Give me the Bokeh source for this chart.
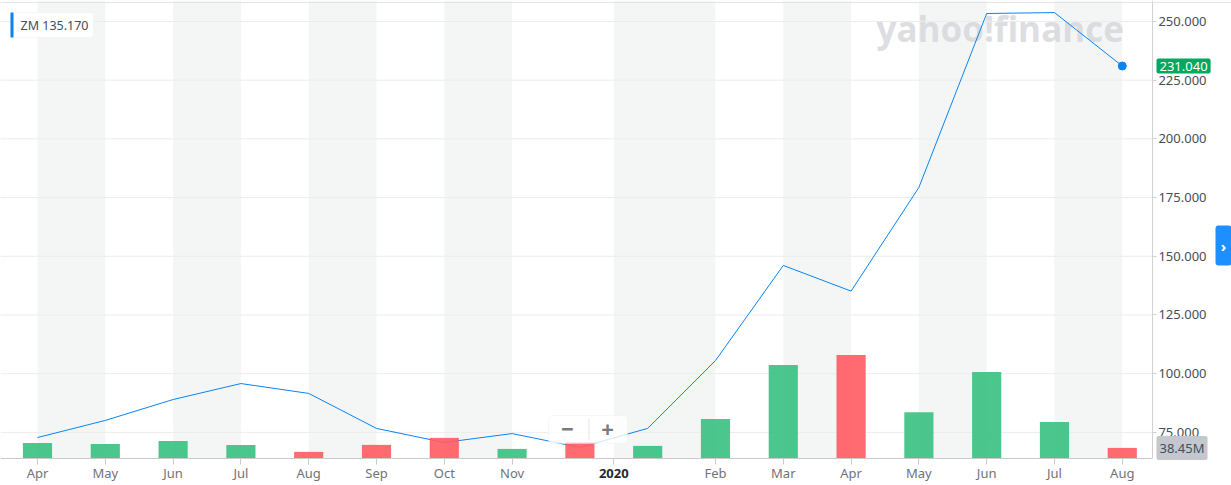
from bokeh.plotting import figure
from bokeh.models import (Range1d, FixedTicker, PrintfTickFormatter, LinearAxis,
                          BoxAnnotation, Label, Span, ColumnDataSource)
from bokeh.embed import file_html
from bokeh.resources import INLINE

# ---- data ----
months = ["Apr", "May", "Jun", "Jul", "Aug", "Sep", "Oct", "Nov", "Dec",
          "Jan", "Feb", "Mar", "Apr", "May", "Jun", "Jul", "Aug"]
close = [72.8, 80.1, 89.0, 95.8, 91.6, 76.7, 70.7, 74.5, 68.6,
         76.7, 105.6, 146.1, 135.17, 179.3, 253.4, 253.8, 231.04]
volume_m = [56.6, 53.0, 63.9, 49.4, 24.0, 49.4, 74.8, 34.8, 59.2,
            45.7, 143.7, 339.8, 376.1, 168.1, 314.4, 132.9, 38.45]
tick_pos = [0, 1, 2, 3, 4, 5, 6, 7, 8.5, 10, 11, 12, 13, 14, 15, 16]
tick_text = ["Apr", "May", "Jun", "Jul", "Aug", "Sep", "Oct", "Nov", "2020",
             "Feb", "Mar", "Apr", "May", "Jun", "Jul", "Aug"]
price_ticks = [75, 100, 125, 150, 175, 200, 225, 250]
symbol = "ZM"
legend_idx = 12

# ---- layout / style ----
W, H = 1231, 485
X_LO, X_HI = -0.5457, 17.611        # visible x extent (whole canvas)
Y_LO, Y_HI = 52.38, 258.94          # visible price extent (whole canvas)
V_LO, V_HI = -98.0e6, 1662.5e6      # visible volume extent (whole canvas)
AXIS_X = 16.445                     # where the price axis sits
AXIS_Y = 63.88                      # where the time axis sits
FONT = "Noto Sans"
GREEN = "#37c07f"
RED = "#ff5b60"
BLUE = "#0a84f2"

x = list(range(len(months)))
volume = [v * 1e6 for v in volume_m]
colors = [GREEN] + [GREEN if close[i] >= close[i - 1] else RED for i in range(1, len(close))]

p = figure(width=W, height=H, x_range=Range1d(X_LO, X_HI), y_range=Range1d(Y_LO, Y_HI),
           x_axis_location=None, y_axis_location=None,
           output_backend="svg", toolbar_location=None,
           min_border_left=0, min_border_top=0, min_border_right=0, min_border_bottom=0)
p.outline_line_color = None
p.background_fill_color = "white"
p.border_fill_color = "white"
p.extra_y_ranges = {"vol": Range1d(V_LO, V_HI)}
p.xgrid.visible = False
p.ygrid.visible = False

# alternating bands between tick pairs
for a, b in zip(tick_pos[0::2], tick_pos[1::2]):
    p.add_layout(BoxAnnotation(left=a, right=b, bottom=AXIS_Y, fill_color="#f4f6f5",
                               fill_alpha=1.0, line_color=None, level="underlay"))

# watermark
p.add_layout(Label(x=876, y=457, x_units="screen", y_units="screen", text="yahoo!finance",
                   text_font="Open Sans", text_font_style="bold", text_font_size="35px",
                   text_color="#d6d8dc", text_alpha=0.85, text_baseline="middle",
                   level="underlay"))

# top border line
p.add_layout(Span(location=H - 2, location_units="screen", dimension="width",
                  line_color="#e3e4e6", line_width=1))

# horizontal grid lines (stop at the price axis)
p.segment(x0=[X_LO] * len(price_ticks), x1=[AXIS_X] * len(price_ticks),
          y0=price_ticks, y1=price_ticks, line_color="#ececec", line_width=1)

# axes placed at fixed locations
yax = LinearAxis(fixed_location=AXIS_X, bounds=(AXIS_Y, Y_HI))
yax.ticker = FixedTicker(ticks=price_ticks)
yax.formatter = PrintfTickFormatter(format="%.3f")
yax.axis_line_color = "#cfd1d4"
yax.major_tick_line_color = "#cfd1d4"
yax.major_tick_out = 4
yax.major_tick_in = 0
yax.minor_tick_line_color = None
yax.major_label_standoff = 2
yax.major_label_text_font = FONT
yax.major_label_text_font_size = "13px"
yax.major_label_text_color = "#464e56"
p.add_layout(yax, "right")

xax = LinearAxis(fixed_location=AXIS_Y, bounds=(X_LO, AXIS_X))
xax.ticker = FixedTicker(ticks=tick_pos)
xax.major_label_overrides = {t: ("" if s == "2020" else s) for t, s in zip(tick_pos, tick_text)}
xax.axis_line_color = "#c8cacd"
xax.major_tick_line_color = "#c8cacd"
xax.major_tick_out = 6
xax.major_tick_in = 0
xax.minor_tick_line_color = None
xax.major_label_standoff = 0
xax.major_label_text_font = FONT
xax.major_label_text_font_size = "13px"
xax.major_label_text_color = "#6f7378"
p.add_layout(xax, "below")

# price line
src = ColumnDataSource(dict(x=x, close=close, vol=volume, color=colors))
p.line("x", "close", source=src, line_color=BLUE, line_width=1)

# volume bars
p.vbar(x="x", top="vol", bottom=0, width=0.43, source=src, y_range_name="vol",
       fill_color="color", fill_alpha=0.9, line_color=None)

# last point
p.scatter([x[-1]], [close[-1]], size=8, fill_color=BLUE, line_color=BLUE)

# bold year label
for t, s in zip(tick_pos, tick_text):
    if s == "2020":
        p.add_layout(Label(x=t, y=12, y_units="screen", text=s, text_align="center",
                           text_baseline="middle", text_font=FONT, text_font_style="bold",
                           text_font_size="13px", text_color="#232a31"))

# legend box
p.add_layout(BoxAnnotation(left=10, right=93, bottom=448, top=473,
                           left_units="screen", right_units="screen",
                           bottom_units="screen", top_units="screen",
                           fill_color="white", fill_alpha=1.0, line_color="#e2e4e7",
                           border_radius=4))
p.add_layout(BoxAnnotation(left=10, right=13, bottom=448, top=473,
                           left_units="screen", right_units="screen",
                           bottom_units="screen", top_units="screen",
                           fill_color=BLUE, fill_alpha=1.0, line_color=None))
p.add_layout(Label(x=20, y=460, x_units="screen", y_units="screen",
                   text=f"{symbol} {close[legend_idx]:.3f}", text_baseline="middle",
                   text_font=FONT, text_font_size="12.5px", text_color="#464e56"))

# price & volume tags on the price axis
p.add_layout(Label(x=1156, y=close[-1], x_units="screen", text=f"{close[-1]:.3f}",
                   text_baseline="middle", text_font=FONT, text_font_size="13px",
                   text_color="white", background_fill_color="#00a95d", padding=3,
                   border_radius=2))
p.add_layout(Label(x=1156, y=volume[-1], x_units="screen", y_range_name="vol",
                   text=f"{volume_m[-1]:.2f}M", text_baseline="middle",
                   text_font=FONT, text_font_size="13px",
                   text_color="#464e56", background_fill_color="#c4c7cd", padding=3,
                   border_radius=2))

# zoom control
p.add_layout(BoxAnnotation(left=548, right=627, bottom=42, top=70,
                           left_units="screen", right_units="screen",
                           bottom_units="screen", top_units="screen",
                           fill_color="white", fill_alpha=0.8, line_color="#e6e6e6",
                           border_radius=4))
p.add_layout(BoxAnnotation(left=588, right=589, bottom=45, top=67,
                           left_units="screen", right_units="screen",
                           bottom_units="screen", top_units="screen",
                           fill_color="#e6e6e6", fill_alpha=1.0, line_color=None))
for sx, s in [(567, "−"), (607, "+")]:
    p.add_layout(Label(x=sx, y=56, x_units="screen", y_units="screen", text=s,
                       text_align="center", text_baseline="middle", text_font=FONT,
                       text_font_style="bold", text_font_size="22px", text_color="#7a7a7a"))

# side button
p.add_layout(BoxAnnotation(left=1215, right=1231, bottom=220, top=260,
                           left_units="screen", right_units="screen",
                           bottom_units="screen", top_units="screen",
                           fill_color="#1e8fff", fill_alpha=1.0, line_color=None,
                           border_radius=3))
p.add_layout(Label(x=1223, y=240, x_units="screen", y_units="screen", text="›",
                   text_align="center", text_baseline="middle", text_font=FONT,
                   text_font_style="bold", text_font_size="15px", text_color="white"))

open("out.html", "w").write(file_html(p, INLINE))
